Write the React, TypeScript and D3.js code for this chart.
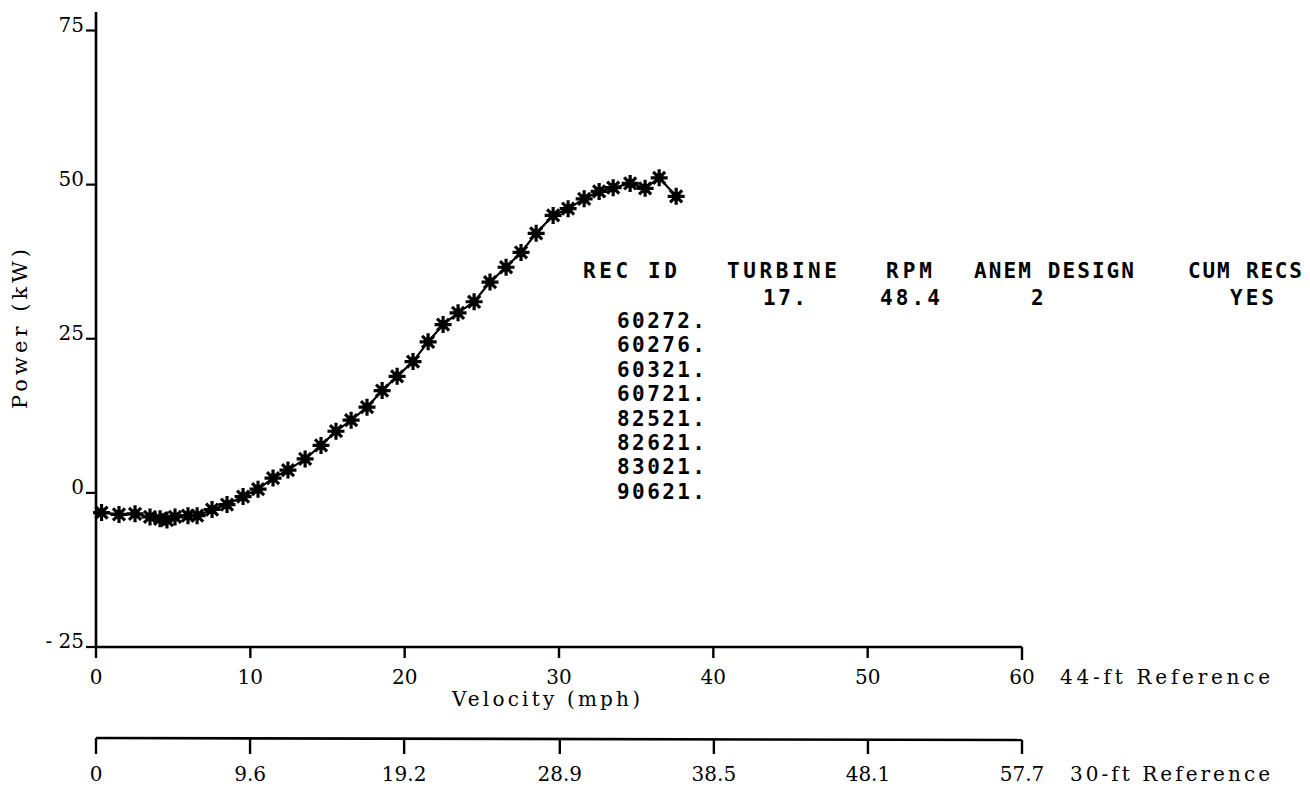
import React from "react";
import * as d3 from "d3";

// ---- data ----
const velocity = [0.36, 1.49, 2.53, 3.5, 4.15, 4.6, 5.12, 5.96, 6.55, 7.52, 8.49, 9.53, 10.5, 11.47, 12.44, 13.55, 14.58, 15.55, 16.53, 17.56, 18.54, 19.51, 20.54, 21.52, 22.49, 23.46, 24.5, 25.53, 26.57, 27.54, 28.52, 29.62, 30.59, 31.63, 32.6, 33.51, 34.61, 35.58, 36.49, 37.59];
const power = [-3.2, -3.5, -3.4, -3.9, -4.2, -4.4, -3.9, -3.7, -3.7, -2.7, -1.9, -0.6, 0.6, 2.4, 3.7, 5.5, 7.7, 10.0, 11.8, 13.9, 16.6, 18.9, 21.3, 24.5, 27.3, 29.2, 31.0, 34.2, 36.6, 39.0, 42.1, 45.0, 46.1, 47.7, 48.9, 49.5, 50.2, 49.4, 51.1, 48.1];

const yTicks = [-25, 0, 25, 50, 75];
const xTicks44 = [0, 10, 20, 30, 40, 50, 60];
const xTicks30 = [0, 9.6, 19.2, 28.9, 38.5, 48.1, 57.7];
const xTickLabels30 = ["0", "9.6", "19.2", "28.9", "38.5", "48.1", "57.7"];

const headerLabels = ["REC ID", "TURBINE", "RPM", "ANEM DESIGN", "CUM RECS"];
const headerValues = ["", "17.", "48.4", "2", "YES"];
const recIds = ["60272.", "60276.", "60321.", "60721.", "82521.", "82621.", "83021.", "90621."];

// ---- layout ----
const W = 1310;
const H = 788;
const headerX = [583, 727, 886, 974, 1188];
const headerW = [94, 110, 46, 160, 114];
const valueX = [0, 763, 880, 1031, 1230];
const valueW = [0, 43, 60, 0, 44];

function starPath(r: number) {
  const a = r * 0.7071;
  return `M${-r},0L${r},0M0,${-r}L0,${r}M${-a},${-a}L${a},${a}M${-a},${a}L${a},${-a}`;
}

export default function App() {
  const x = d3.scaleLinear().domain([0, 60]).range([96, 1022]);
  const x30 = d3.scaleLinear().domain([0, 57.7]).range([96, 1022]);
  const y = d3.scaleLinear().domain([-25, 75]).range([647, 30.5]);

  const pts = velocity.map((v, i) => [v, power[i]] as [number, number]);
  const line = d3
    .line<[number, number]>()
    .x((d) => x(d[0]))
    .y((d) => y(d[1]));

  const serif = "'DejaVu Serif', 'Liberation Serif', serif";
  const mono = "'DejaVu Sans Mono', monospace";
  const axisY0 = y(-25);
  const axis2Y = 738;

  return (
    <svg
      width={W}
      height={H}
      viewBox={`0 0 ${W} ${H}`}
      style={{ position: "absolute", left: 0, top: 0, background: "#fff" }}
    >
      <rect x={0} y={0} width={W} height={H} fill="#fff" />

      {/* Y axis */}
      <line x1={96} x2={96} y1={12} y2={axisY0} stroke="#000" strokeWidth={2.6} />
      {yTicks.map((t) => (
        <g key={"yt" + t}>
          <line x1={86} x2={96} y1={y(t)} y2={y(t)} stroke="#000" strokeWidth={2.2} />
          <text
            x={84}
            y={y(t) + 1}
            textAnchor="end"
            fontFamily={serif}
            fontSize={20}
            fill="#000"
          >
            {t < 0 ? "- " + Math.abs(t) : String(t)}
          </text>
        </g>
      ))}
      <text
        transform={`translate(27,329) rotate(-90)`}
        textAnchor="middle"
        fontFamily={serif}
        fontSize={21}
        textLength={160}
        lengthAdjust="spacing"
        fill="#000"
      >
        Power (kW)
      </text>

      {/* X axis (44-ft reference) */}
      <line x1={96} x2={x(60)} y1={axisY0} y2={axisY0} stroke="#000" strokeWidth={2.6} />
      {xTicks44.map((t) => (
        <g key={"xt" + t}>
          <line
            x1={x(t)}
            x2={x(t)}
            y1={axisY0}
            y2={axisY0 + (t === 60 ? 13 : 11)}
            stroke="#000"
            strokeWidth={2.4}
          />
          <text x={x(t)} y={684} textAnchor="middle" fontFamily={serif} fontSize={20} fill="#000">
            {t}
          </text>
        </g>
      ))}
      <text
        x={452}
        y={706}
        fontFamily={serif}
        fontSize={20}
        textLength={188}
        lengthAdjust="spacing"
        fill="#000"
      >
        Velocity (mph)
      </text>
      <text
        x={1060}
        y={684}
        fontFamily={serif}
        fontSize={20}
        textLength={210}
        lengthAdjust="spacing"
        fill="#000"
      >
        44-ft Reference
      </text>

      {/* Second X axis (30-ft reference) */}
      <line x1={96} x2={x30(57.7)} y1={axis2Y} y2={axis2Y + 2} stroke="#000" strokeWidth={2.6} />
      {xTicks30.map((t, i) => (
        <g key={"x2t" + i}>
          <line
            x1={x30(t)}
            x2={x30(t)}
            y1={axis2Y + (i / 6) * 2}
            y2={axis2Y + 16}
            stroke="#000"
            strokeWidth={2.4}
          />
          <text x={x30(t)} y={781} textAnchor="middle" fontFamily={serif} fontSize={20} fill="#000">
            {xTickLabels30[i]}
          </text>
        </g>
      ))}
      <text
        x={1070}
        y={781}
        fontFamily={serif}
        fontSize={20}
        textLength={200}
        lengthAdjust="spacing"
        fill="#000"
      >
        30-ft Reference
      </text>

      {/* Data line and asterisk markers */}
      <path d={line(pts) || ""} fill="none" stroke="#000" strokeWidth={2.2} />
      {pts.map((d, i) => (
        <g key={"p" + i} transform={`translate(${x(d[0])},${y(d[1])})`}>
          <path d={starPath(8.5)} stroke="#000" strokeWidth={3.2} fill="none" />
          <circle r={4.5} fill="#000" />
        </g>
      ))}

      {/* Table text */}
      {headerLabels.map((h, i) => (
        <text
          key={"h" + i}
          x={headerX[i]}
          y={278}
          fontFamily={mono}
          fontWeight="bold"
          fontSize={21}
          textLength={headerW[i]}
          lengthAdjust="spacing"
          fill="#000"
        >
          {h}
        </text>
      ))}
      {headerValues.map((v, i) =>
        v ? (
          <text
            key={"v" + i}
            x={valueX[i]}
            y={305}
            fontFamily={mono}
            fontWeight="bold"
            fontSize={21}
            textLength={valueW[i] || undefined}
            lengthAdjust="spacing"
            fill="#000"
          >
            {v}
          </text>
        ) : null
      )}
      {recIds.map((r, i) => (
        <text
          key={"r" + i}
          x={617}
          y={328 + i * 24.4}
          fontFamily={mono}
          fontWeight="bold"
          fontSize={21}
          textLength={88}
          lengthAdjust="spacing"
          fill="#000"
        >
          {r}
        </text>
      ))}
    </svg>
  );
}
